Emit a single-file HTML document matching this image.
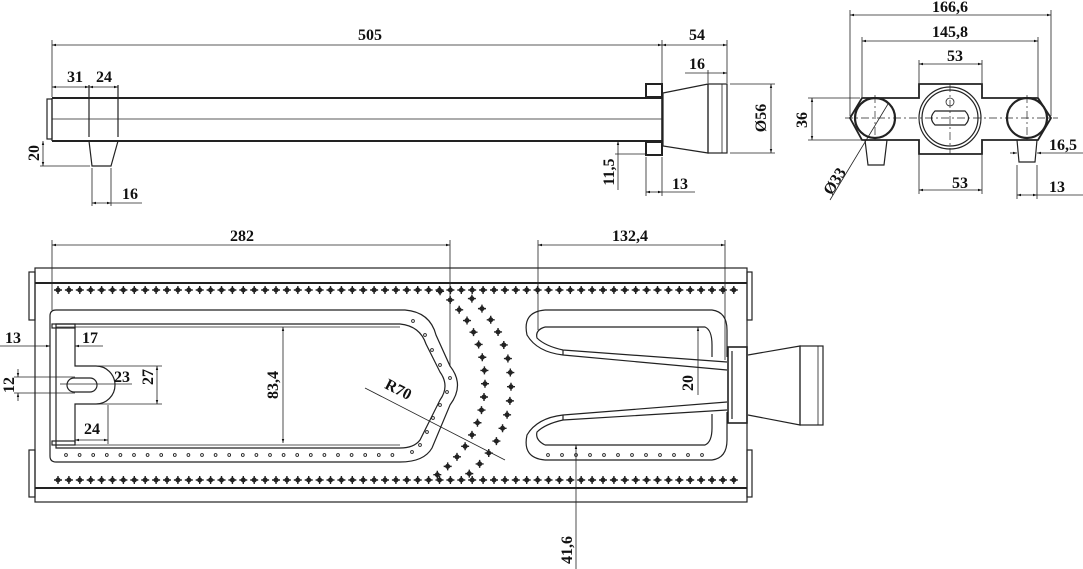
<!DOCTYPE html>
<html><head><meta charset="utf-8"><style>
html,body{margin:0;padding:0;background:#fff;}
svg{display:block;}
text{font-family:"Liberation Serif",serif;font-weight:bold;font-size:16px;fill:#111;}
</style></head><body>
<svg id="s" width="1083" height="569" viewBox="0 0 1083 569" xmlns="http://www.w3.org/2000/svg">
<defs>
<marker id="a" viewBox="0 0 10 10" refX="10" refY="5" markerWidth="7" markerHeight="5" orient="auto-start-reverse"><path d="M0,2 L10,5 L0,8z" fill="#111"/></marker>
</defs>
<g stroke="#222" fill="none" stroke-width="1.2">
<rect x="47" y="99" width="5" height="40"/>
<line x1="52" y1="98" x2="662" y2="98" stroke-width="2"/>
<line x1="52" y1="141" x2="662" y2="141" stroke-width="2"/>
<line x1="52" y1="98" x2="52" y2="141"/>
<line x1="52" y1="119" x2="662" y2="119" stroke-width="0.8"/>
<line x1="89" y1="85" x2="89" y2="137"/><line x1="118" y1="85" x2="118" y2="137"/>
<path d="M89,141 L92,166 L111,166 L118,141"/>
<line x1="92" y1="168" x2="92" y2="206" stroke-width="0.8"/><line x1="111" y1="168" x2="111" y2="206" stroke-width="0.8"/>
<rect x="646" y="84" width="16" height="13" stroke-width="2"/>
<rect x="646" y="142" width="16" height="13" stroke-width="2"/>
<line x1="662" y1="97" x2="662" y2="142" stroke-width="1.6"/>
<path d="M663,93 L708,84 L708,153 L663,146 Z"/>
<rect x="708" y="84" width="19" height="69"/>
<line x1="722" y1="84" x2="722" y2="153" stroke-width="0.8"/>
<g stroke-width="0.8">
<line x1="52" y1="40" x2="52" y2="97"/><line x1="662" y1="40" x2="662" y2="97"/><line x1="727" y1="40" x2="727" y2="83"/>
<line x1="52" y1="45" x2="662" y2="45" marker-start="url(#a)" marker-end="url(#a)"/>
<line x1="662" y1="45" x2="727" y2="45" marker-start="url(#a)" marker-end="url(#a)"/>
<line x1="52" y1="87" x2="89" y2="87" marker-start="url(#a)" marker-end="url(#a)"/>
<line x1="89" y1="87" x2="118" y2="87" marker-start="url(#a)" marker-end="url(#a)"/>
<line x1="43" y1="141" x2="43" y2="166" marker-start="url(#a)" marker-end="url(#a)"/>
<line x1="40" y1="166" x2="90" y2="166"/>
<line x1="92" y1="203" x2="111" y2="203" marker-start="url(#a)" marker-end="url(#a)"/><line x1="111" y1="203" x2="142" y2="203"/>
<line x1="685" y1="73" x2="727" y2="73" marker-end="url(#a)"/><line x1="708" y1="70" x2="708" y2="83"/>
<line x1="730" y1="84" x2="775" y2="84"/><line x1="730" y1="153" x2="775" y2="153"/>
<line x1="771" y1="84" x2="771" y2="153" marker-start="url(#a)" marker-end="url(#a)"/>
<line x1="618" y1="141" x2="618" y2="190" marker-start="url(#a)"/>
<line x1="615" y1="154" x2="645" y2="154"/>
<line x1="646" y1="157" x2="646" y2="196"/><line x1="662" y1="157" x2="662" y2="196"/>
<line x1="646" y1="192" x2="662" y2="192" marker-start="url(#a)" marker-end="url(#a)"/><line x1="662" y1="192" x2="695" y2="192"/>
</g>
<path d="M850,118 L862,98 L919,98 L919,84 L982,84 L982,98 L1038,98 L1051,118 L1038,140 L982,140 L982,154 L919,154 L919,140 L862,140 Z" stroke-width="1.8"/>
<circle cx="875" cy="118" r="20" stroke-width="2.2"/>
<circle cx="1027" cy="118" r="20" stroke-width="2.2"/>
<circle cx="950" cy="118" r="31"/><circle cx="950" cy="118" r="28"/>
<path d="M935,111 L965,111 Q972,118 965,125 L935,125 Q928,118 935,111Z"/>
<circle cx="950" cy="102" r="4" stroke-width="0.8"/>
<path d="M865,140 L868,165 L884,165 L887,140"/>
<path d="M1017,140 L1019,162 L1035,162 L1037,140"/>
<g stroke-width="0.7" stroke-dasharray="8,3,2,3">
<line x1="845" y1="118" x2="1058" y2="118"/>
<line x1="875" y1="95" x2="875" y2="143"/><line x1="1027" y1="95" x2="1027" y2="143"/><line x1="950" y1="84" x2="950" y2="154"/>
</g>
<g stroke-width="0.8">
<line x1="850" y1="10" x2="850" y2="116"/><line x1="1051" y1="10" x2="1051" y2="116"/>
<line x1="850" y1="15" x2="1051" y2="15" marker-start="url(#a)" marker-end="url(#a)"/>
<line x1="862" y1="37" x2="862" y2="97"/><line x1="1038" y1="37" x2="1038" y2="97"/>
<line x1="862" y1="41" x2="1038" y2="41" marker-start="url(#a)" marker-end="url(#a)"/>
<line x1="919" y1="60" x2="919" y2="83"/><line x1="982" y1="60" x2="982" y2="83"/>
<line x1="919" y1="64" x2="982" y2="64" marker-start="url(#a)" marker-end="url(#a)"/>
<line x1="919" y1="155" x2="919" y2="194"/><line x1="982" y1="155" x2="982" y2="194"/>
<line x1="919" y1="190" x2="982" y2="190" marker-start="url(#a)" marker-end="url(#a)"/>
<line x1="808" y1="98" x2="860" y2="98"/><line x1="808" y1="140" x2="862" y2="140"/>
<line x1="812" y1="98" x2="812" y2="140" marker-start="url(#a)" marker-end="url(#a)"/>
<line x1="830" y1="200" x2="888" y2="104"/>
<line x1="1010" y1="153" x2="1017" y2="153" marker-end="url(#a)"/><line x1="1037" y1="153" x2="1083" y2="153" marker-start="url(#a)"/>
<line x1="1017" y1="165" x2="1017" y2="199"/><line x1="1037" y1="165" x2="1037" y2="199"/>
<line x1="1017" y1="195" x2="1037" y2="195" marker-start="url(#a)" marker-end="url(#a)"/><line x1="1037" y1="195" x2="1083" y2="195"/>
</g>
<rect x="35" y="268" width="712" height="234"/>
<line x1="35" y1="283" x2="747" y2="283" stroke-width="2"/>
<line x1="35" y1="488" x2="747" y2="488" stroke-width="2"/>
<rect x="29" y="272" width="6" height="48"/><rect x="29" y="450" width="6" height="47"/>
<rect x="747" y="272" width="5" height="48"/><rect x="747" y="450" width="5" height="47"/>
<path d="M56,310 L405,310 Q430,312 436,335 L450,366 Q465,385 450,405 L432,448 Q424,462 400,462 L56,462 Q50,462 50,456 L50,316 Q50,310 56,310Z"/>
<path d="M56,324 L400,324 Q420,326 426,344 L440,372 Q450,386 440,400 L420,440 Q414,448 400,448 L56,448 L56,324Z"/>
<line x1="56" y1="327" x2="400" y2="327" stroke-width="0.8"/><line x1="56" y1="445" x2="400" y2="445" stroke-width="0.8"/>
<path d="M75,327 L75,366 L96,366 A19,19 0 0 1 96,404 L75,404 L75,443"/>
<rect x="52" y="324" width="23" height="4"/><rect x="52" y="441" width="23" height="4"/>
<rect x="67" y="378" width="30" height="14" rx="7"/>
<path d="M545,310 L712,310 Q727,312 727,330 L727,357"/>
<path d="M545,327 L705,327 Q712,330 712,345 L712,357"/>
<path d="M545,310 Q522,312 527,335 Q537,352 563,355 L727,370"/>
<path d="M545,327 Q535,330 537,338 Q545,346 563,350 L727,362"/>
<line x1="563" y1="350" x2="563" y2="355"/>
<path d="M545,460 L712,460 Q727,458 727,440 L727,412"/>
<path d="M545,445 L705,445 Q712,442 712,428 L712,414"/>
<path d="M545,460 Q522,458 527,435 Q537,418 563,415 L727,402"/>
<path d="M545,445 Q535,440 537,432 Q545,424 563,420 L727,410"/>
<line x1="563" y1="415" x2="563" y2="420"/>
<rect x="728" y="347" width="19" height="76" stroke-width="1.6"/>
<line x1="732" y1="351" x2="732" y2="419"/>
<path d="M748,355 L800,346 L800,425 L748,415"/>
<rect x="800" y="346" width="23" height="79"/>
<line x1="818" y1="346" x2="818" y2="425" stroke-width="0.8"/>
<g stroke-width="0.8">
<line x1="52" y1="240" x2="52" y2="310"/><line x1="450" y1="240" x2="450" y2="366"/>
<line x1="52" y1="245" x2="450" y2="245" marker-start="url(#a)" marker-end="url(#a)"/>
<line x1="538" y1="240" x2="538" y2="330"/><line x1="725" y1="240" x2="725" y2="360"/>
<line x1="538" y1="245" x2="725" y2="245" marker-start="url(#a)" marker-end="url(#a)"/>
<line x1="0" y1="346" x2="50" y2="346" marker-end="url(#a)"/><line x1="75" y1="346" x2="103" y2="346" marker-start="url(#a)"/>
<line x1="14" y1="377" x2="75" y2="377"/><line x1="14" y1="393" x2="75" y2="393"/>
<line x1="18" y1="369" x2="18" y2="377" marker-end="url(#a)"/><line x1="18" y1="401" x2="18" y2="393" marker-end="url(#a)"/>
<line x1="60" y1="384" x2="132" y2="384"/>
<line x1="97" y1="366" x2="162" y2="366"/><line x1="97" y1="404" x2="162" y2="404"/>
<line x1="157" y1="366" x2="157" y2="404" marker-start="url(#a)" marker-end="url(#a)"/>
<line x1="108" y1="405" x2="108" y2="444"/>
<line x1="75" y1="440" x2="108" y2="440" marker-start="url(#a)" marker-end="url(#a)"/>
<line x1="283" y1="327" x2="283" y2="443" marker-start="url(#a)" marker-end="url(#a)"/>
<line x1="365" y1="388" x2="505" y2="460"/>
<line x1="698" y1="327" x2="698" y2="395" marker-start="url(#a)"/>
<line x1="576" y1="445" x2="576" y2="569" marker-start="url(#a)"/>
</g>
<g id="stars" stroke-width="1.4"></g>
<g id="dots" stroke-width="0.9"></g>
</g>
<g>
<text x="370" y="40" text-anchor="middle">505</text>
<text x="697" y="40" text-anchor="middle">54</text>
<text x="75" y="82" text-anchor="middle">31</text>
<text x="104" y="82" text-anchor="middle">24</text>
<text x="130" y="199" text-anchor="middle">16</text>
<text x="697" y="69" text-anchor="middle">16</text>
<text x="680" y="189" text-anchor="middle">13</text>
<text transform="translate(39,153) rotate(-90)" text-anchor="middle">20</text>
<text transform="translate(614,172) rotate(-90)" text-anchor="middle">11,5</text>
<text transform="translate(766,118) rotate(-90)" text-anchor="middle">Ø56</text>
<text x="950" y="12" text-anchor="middle">166,6</text>
<text x="950" y="37" text-anchor="middle">145,8</text>
<text x="955" y="61" text-anchor="middle">53</text>
<text x="960" y="188" text-anchor="middle">53</text>
<text transform="translate(807,120) rotate(-90)" text-anchor="middle">36</text>
<text transform="translate(839,184) rotate(-58)" text-anchor="middle">Ø33</text>
<text x="1063" y="150" text-anchor="middle">16,5</text>
<text x="1057" y="192" text-anchor="middle">13</text>
<text x="242" y="241" text-anchor="middle">282</text>
<text x="630" y="241" text-anchor="middle">132,4</text>
<text x="13" y="343" text-anchor="middle">13</text>
<text x="90" y="343" text-anchor="middle">17</text>
<text x="122" y="382" text-anchor="middle">23</text>
<text x="92" y="434" text-anchor="middle">24</text>
<text transform="translate(153,377) rotate(-90)" text-anchor="middle">27</text>
<text transform="translate(14,385) rotate(-90)" text-anchor="middle">12</text>
<text transform="translate(278,385) rotate(-90)" text-anchor="middle">83,4</text>
<text transform="translate(396,394) rotate(27)" text-anchor="middle">R70</text>
<text transform="translate(693,383) rotate(-90)" text-anchor="middle">20</text>
<text transform="translate(572,550) rotate(-90)" text-anchor="middle">41,6</text>
</g>
</svg>
<script>
var ns="http://www.w3.org/2000/svg",g=document.getElementById("stars"),d=document.getElementById("dots");
function star(x,y){var p=document.createElementNS(ns,"path");p.setAttribute("d","M"+(x-4)+","+y+"h8M"+x+","+(y-4)+"v8");g.appendChild(p);var c=document.createElementNS(ns,"circle");c.setAttribute("cx",x);c.setAttribute("cy",y);c.setAttribute("r",1.8);c.setAttribute("fill","#222");g.appendChild(c);}
function dot(x,y){var c=document.createElementNS(ns,"circle");c.setAttribute("cx",x);c.setAttribute("cy",y);c.setAttribute("r",1.4);d.appendChild(c);}
for(var x=58;x<=738;x+=10.9){star(x,290);star(x,480);}
function arc(cx,cy,r,n,a0,a1){for(var i=0;i<n;i++){var a=a0+(a1-a0)*i/(n-1);star(cx+r*Math.cos(a),cy+r*Math.sin(a));}}
arc(371,382,114,17,-0.92,0.95);
arc(396,385,115,15,-0.85,0.88);
for(var x=66;x<=405;x+=13.6)dot(x,455);
for(var x=548;x<=705;x+=14)dot(x,455);
var pd=[[413,321],[425,335],[432,350],[440,365],[450,378],[447,392],[440,405],[433,418],[427,432],[420,445],[412,452]];
pd.forEach(function(p){dot(p[0],p[1]);});
</script>
</body></html>
